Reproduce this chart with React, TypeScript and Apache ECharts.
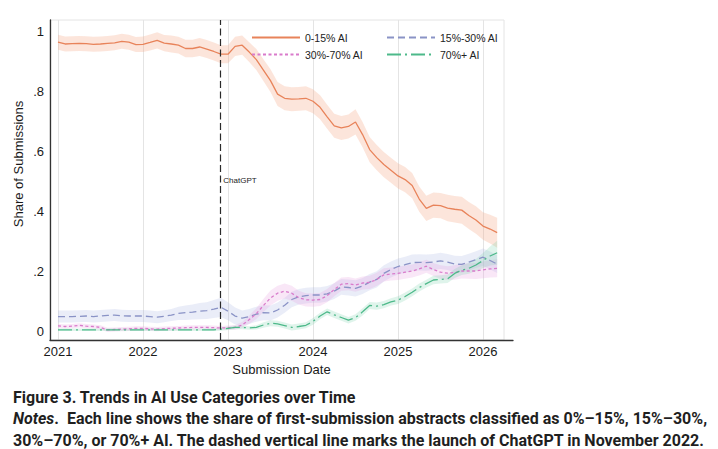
import React, { useEffect, useRef } from "react";
import * as echarts from "echarts";

// Month index 0 = Jan 2021 ... 62 = Mar 2026 (decimal-year positions)
const monthIndex: number[] = Array.from({ length: 63 }, (_, i) => i);
const dates: number[] = monthIndex.map((m) => 2021 + m / 12);

const yearTicks: number[] = [2021, 2022, 2023, 2024, 2025, 2026];
const shareTicks: number[] = [0, 0.2, 0.4, 0.6, 0.8, 1];
const chatGptDate = 2022.91;

const seriesNames: string[] = ["0-15% AI", "15%-30% AI", "30%-70% AI", "70%+ AI"];

const share0to15: number[] = [
  0.963, 0.957, 0.958, 0.959, 0.958, 0.956, 0.957, 0.959, 0.961, 0.966, 0.963, 0.955,
  0.956, 0.962, 0.969, 0.96, 0.957, 0.953, 0.942, 0.942, 0.947, 0.94, 0.932, 0.923,
  0.923, 0.949, 0.953, 0.93, 0.905, 0.87, 0.835, 0.79, 0.776, 0.773, 0.774, 0.776,
  0.766, 0.746, 0.714, 0.684, 0.677, 0.682, 0.697, 0.655, 0.605, 0.578, 0.555, 0.536,
  0.517, 0.505, 0.485, 0.44, 0.409, 0.42, 0.418, 0.41, 0.406, 0.403, 0.385, 0.37,
  0.35, 0.34, 0.328,
];
const share15to30: number[] = [
  0.048, 0.048, 0.048, 0.049, 0.05, 0.048, 0.05, 0.052, 0.053, 0.051, 0.05, 0.05,
  0.05, 0.048, 0.046, 0.049, 0.053, 0.059, 0.061, 0.063, 0.066, 0.068, 0.073, 0.079,
  0.066, 0.05, 0.043, 0.048, 0.056, 0.061, 0.06, 0.07, 0.086, 0.105, 0.114, 0.118,
  0.12, 0.12, 0.124, 0.133, 0.147, 0.145, 0.142, 0.15, 0.163, 0.172, 0.192, 0.205,
  0.215, 0.221, 0.228, 0.229, 0.228, 0.23, 0.234, 0.23, 0.223, 0.222, 0.23, 0.238,
  0.246, 0.235, 0.223,
];
const share30to70: number[] = [
  0.017, 0.015, 0.016, 0.019, 0.016, 0.015, 0.012, 0.004, 0.005, 0.006, 0.007, 0.009,
  0.009, 0.007, 0.006, 0.008, 0.009, 0.01, 0.011, 0.012, 0.012, 0.012, 0.011, 0.01,
  0.011, 0.012, 0.02, 0.038, 0.058, 0.085, 0.11, 0.126, 0.133, 0.126, 0.111, 0.104,
  0.103, 0.105, 0.118, 0.138, 0.156, 0.158, 0.153, 0.16, 0.162, 0.172, 0.187, 0.19,
  0.192, 0.196, 0.2, 0.207, 0.216, 0.205, 0.196, 0.193, 0.195, 0.2, 0.2, 0.2,
  0.204, 0.207, 0.209,
];
const share70plus: number[] = [
  0.004, 0.004, 0.004, 0.004, 0.004, 0.004, 0.004, 0.004, 0.004, 0.004, 0.004, 0.004,
  0.004, 0.004, 0.004, 0.004, 0.004, 0.004, 0.004, 0.004, 0.004, 0.004, 0.004, 0.006,
  0.009, 0.012, 0.012, 0.01, 0.012, 0.02, 0.026, 0.024, 0.018, 0.012, 0.015, 0.019,
  0.032, 0.05, 0.064, 0.054, 0.045, 0.036, 0.045, 0.064, 0.085, 0.083, 0.088, 0.097,
  0.103, 0.115, 0.129, 0.145, 0.158, 0.17, 0.172, 0.174, 0.192, 0.203, 0.209, 0.22,
  0.235, 0.25, 0.261,
];

// Half-widths of the confidence bands
const band0to15: number[] = [
  0.025, 0.025, 0.025, 0.025, 0.025, 0.025, 0.025, 0.025, 0.025, 0.025, 0.025, 0.025,
  0.026, 0.027, 0.027, 0.027, 0.028, 0.028, 0.029, 0.029, 0.03, 0.03, 0.03, 0.03,
  0.03, 0.032, 0.032, 0.033, 0.035, 0.036, 0.038, 0.04, 0.04, 0.04, 0.04, 0.04,
  0.04, 0.04, 0.04, 0.04, 0.04, 0.04, 0.042, 0.042, 0.042, 0.042, 0.042, 0.042,
  0.042, 0.042, 0.042, 0.042, 0.042, 0.042, 0.042, 0.044, 0.044, 0.045, 0.045, 0.046,
  0.046, 0.048, 0.05,
];
const band15to30: number[] = [
  0.02, 0.02, 0.02, 0.02, 0.02, 0.02, 0.02, 0.02, 0.02, 0.02, 0.02, 0.02,
  0.02, 0.02, 0.02, 0.02, 0.02, 0.022, 0.024, 0.025, 0.027, 0.028, 0.03, 0.032,
  0.03, 0.028, 0.025, 0.025, 0.025, 0.025, 0.025, 0.025, 0.025, 0.026, 0.026, 0.026,
  0.026, 0.026, 0.026, 0.026, 0.026, 0.027, 0.027, 0.027, 0.027, 0.027, 0.027, 0.027,
  0.027, 0.027, 0.027, 0.027, 0.027, 0.027, 0.027, 0.027, 0.028, 0.028, 0.028, 0.028,
  0.029, 0.03, 0.03,
];
const band30to70: number[] = [
  0.007, 0.007, 0.007, 0.007, 0.007, 0.007, 0.007, 0.007, 0.007, 0.007, 0.007, 0.007,
  0.007, 0.007, 0.007, 0.007, 0.007, 0.007, 0.007, 0.007, 0.007, 0.007, 0.007, 0.007,
  0.007, 0.008, 0.01, 0.014, 0.018, 0.022, 0.025, 0.025, 0.025, 0.025, 0.023, 0.022,
  0.022, 0.022, 0.022, 0.022, 0.022, 0.022, 0.022, 0.022, 0.022, 0.022, 0.022, 0.022,
  0.022, 0.022, 0.022, 0.022, 0.022, 0.022, 0.023, 0.023, 0.024, 0.025, 0.026, 0.027,
  0.028, 0.029, 0.03,
];
const band70plus: number[] = [
  0.004, 0.004, 0.004, 0.004, 0.004, 0.004, 0.004, 0.004, 0.004, 0.004, 0.004, 0.004,
  0.004, 0.004, 0.004, 0.004, 0.004, 0.004, 0.004, 0.004, 0.004, 0.004, 0.004, 0.005,
  0.006, 0.006, 0.006, 0.006, 0.007, 0.009, 0.01, 0.01, 0.01, 0.01, 0.01, 0.01,
  0.011, 0.011, 0.011, 0.011, 0.011, 0.011, 0.011, 0.012, 0.012, 0.012, 0.012, 0.012,
  0.013, 0.013, 0.013, 0.013, 0.013, 0.014, 0.014, 0.014, 0.015, 0.016, 0.018, 0.02,
  0.025, 0.032, 0.04,
];

const lineColors: string[] = ["#E8835A", "#8A93C6", "#D97BCB", "#4DB98A"];
const bandColors: string[] = [
  "rgba(245,170,135,0.30)",
  "rgba(160,175,225,0.22)",
  "rgba(230,160,222,0.25)",
  "rgba(120,210,170,0.24)",
];
const lineDashes: any[] = ["solid", [7, 4], [3, 2.5], [14, 4, 2, 4]];

const values: number[][] = [share0to15, share15to30, share30to70, share70plus];
const bands: number[][] = [band0to15, band15to30, band30to70, band70plus];

const FONT = "'Liberation Sans', Arial, Helvetica, sans-serif";
const CAP_FONT = "Roboto, 'Liberation Sans', sans-serif";

export default function App() {
  const ref = useRef<HTMLDivElement>(null);

  useEffect(() => {
    document.body.style.margin = "0";
    const chart = echarts.init(ref.current!, undefined, { renderer: "svg" });

    const gridSeries: any = {
      name: "year-grid",
      type: "line",
      symbol: "none",
      silent: true,
      z: 0,
      lineStyle: { opacity: 0 },
      data: [],
      markLine: {
        silent: true,
        symbol: ["none", "none"],
        label: { show: false },
        lineStyle: { color: "#e4e4e4", width: 1, type: "solid" },
        data: yearTicks.map((y) => ({ xAxis: y })),
        z: 0,
      },
    };

    const bandSeries: any[] = values.map((vals, k) => ({
      name: "band-" + k,
      type: "custom",
      silent: true,
      z: 1,
      data: [[dates[0], vals[0]]],
      renderItem: (_params: any, api: any) => {
        const hw = bands[k];
        const upper = dates.map((d, i) => api.coord([d, vals[i] + hw[i]]));
        const lower = dates.map((d, i) => api.coord([d, vals[i] - hw[i]])).reverse();
        return {
          type: "polygon",
          shape: { points: upper.concat(lower) },
          style: { fill: bandColors[k], stroke: "none" },
        };
      },
    }));

    const lineSeries: any[] = values.map((vals, k) => ({
      name: seriesNames[k],
      type: "line",
      symbol: "none",
      z: 3,
      lineStyle: { color: lineColors[k], width: 1.3, type: lineDashes[k] },
      itemStyle: { color: lineColors[k] },
      data: dates.map((d, i) => [d, vals[i]]),
      ...(k === 0
        ? {
            markLine: {
              silent: true,
              symbol: ["none", "none"],
              label: { show: false },
              lineStyle: { color: "#2a2a2a", width: 1.2, type: [7, 3.5] },
              data: [{ xAxis: chatGptDate }],
              z: 5,
            },
          }
        : {}),
    }));

    const legendCommon = {
      orient: "vertical",
      top: 32,
      padding: 0,
      itemWidth: 48,
      itemHeight: 10,
      itemGap: 6,
      selectedMode: false,
      itemStyle: { opacity: 0 },
      textStyle: { fontSize: 10.5, color: "#222", fontFamily: FONT },
    };

    chart.setOption({
      animation: false,
      grid: { left: 50, top: 20, right: 205, bottom: 109 },
      legend: [
        { ...legendCommon, left: 251, data: [seriesNames[0], seriesNames[2]] },
        { ...legendCommon, left: 386, data: [seriesNames[1], seriesNames[3]] },
      ],
      xAxis: {
        type: "value",
        min: 2020.906,
        max: 2026.353,
        axisLine: { show: true, onZero: false, lineStyle: { color: "#333", width: 1.3 } },
        axisTick: { show: false },
        splitLine: { show: false },
        axisLabel: {
          customValues: yearTicks,
          formatter: (v: number) => String(Math.round(v)),
          fontSize: 13,
          color: "#1a1a1a",
          margin: 5,
          fontFamily: FONT,
        },
        name: "Submission Date",
        nameLocation: "middle",
        nameGap: 22,
        nameTextStyle: { fontSize: 13, color: "#1a1a1a", fontFamily: FONT },
      },
      yAxis: {
        type: "value",
        min: -0.03,
        max: 1.037,
        axisLine: { show: true, onZero: false, lineStyle: { color: "#333", width: 1.3 } },
        axisTick: { show: false },
        splitLine: { show: false },
        axisLabel: {
          customValues: shareTicks,
          formatter: (v: number) => {
            const r = Math.round(v * 10) / 10;
            if (r === 0) return "0";
            if (r === 1) return "1";
            return String(r).replace(/^0\./, ".");
          },
          fontSize: 13,
          color: "#1a1a1a",
          margin: 6,
          fontFamily: FONT,
        },
      },
      series: [gridSeries, ...bandSeries, ...lineSeries],
    });

    const p = chart.convertToPixel({ gridIndex: 0 }, [chatGptDate, 0.503]) as number[];

    chart.setOption({
      graphic: [
        {
          id: "frame",
          type: "rect",
          z: 0,
          silent: true,
          shape: { x: 50, y: 20, width: 454, height: 320 },
          style: { fill: "none", stroke: "#e4e4e4", lineWidth: 1 },
        },
        {
          id: "ytitle",
          type: "text",
          x: 18,
          y: 164,
          rotation: Math.PI / 2,
          style: {
            text: "Share of Submissions",
            fontSize: 13,
            fontFamily: FONT,
            fill: "#1a1a1a",
            align: "center",
            verticalAlign: "middle",
          },
        },
        {
          id: "chatgpt",
          type: "text",
          x: p[0] + 3,
          y: p[1],
          z: 10,
          style: {
            text: "ChatGPT",
            fontSize: 8,
            fontFamily: FONT,
            fill: "#222",
            align: "left",
            verticalAlign: "middle",
          },
        },
        {
          id: "cap1",
          type: "text",
          x: 13,
          y: 397,
          style: {
            text: "Figure 3. Trends in AI Use Categories over Time",
            fontSize: 16,
            fontWeight: "bold",
            fontFamily: CAP_FONT,
            fill: "#1f1f1f",
            align: "left",
            verticalAlign: "middle",
          },
        },
        {
          id: "cap2",
          type: "text",
          x: 13,
          y: 418,
          style: {
            text:
              "{i|Notes}{b|.  Each line shows the share of first-submission abstracts classified as 0%\u201315%, 15%\u201330%,}",
            rich: {
              i: { fontSize: 16, fontWeight: "bold", fontStyle: "italic", fontFamily: CAP_FONT, fill: "#1f1f1f" },
              b: { fontSize: 16, fontWeight: "bold", fontFamily: CAP_FONT, fill: "#1f1f1f" },
            },
            align: "left",
            verticalAlign: "middle",
          },
        },
        {
          id: "cap3",
          type: "text",
          x: 13,
          y: 440,
          style: {
            text: "30%\u201370%, or 70%+ AI. The dashed vertical line marks the launch of ChatGPT in November 2022.",
            fontSize: 16,
            fontWeight: "bold",
            fontFamily: CAP_FONT,
            fill: "#1f1f1f",
            align: "left",
            verticalAlign: "middle",
          },
        },
      ],
    });

    return () => chart.dispose();
  }, []);

  return <div ref={ref} style={{ width: 718, height: 449 }} />;
}
